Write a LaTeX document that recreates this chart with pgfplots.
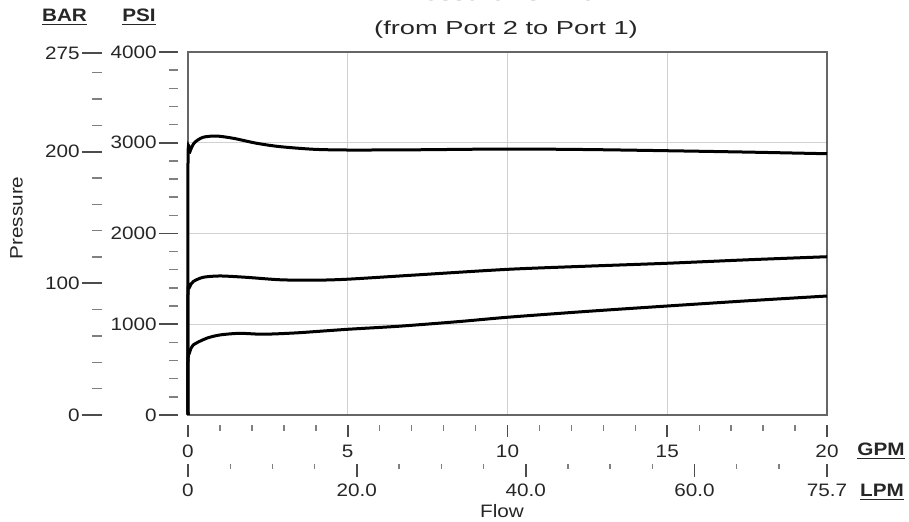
\documentclass[border=0pt]{standalone}
\usepackage{pgfplots}
\pgfplotsset{compat=1.18}
\usepackage{fontspec}
\setmainfont{Liberation Sans}[FakeStretch=1.15]
\newfontfamily\titlefont{Liberation Sans}[FakeStretch=1.45]
\begin{document}
\fontsize{9}{11}\selectfont
\begin{tikzpicture}[x=0.5pt,y=0.5pt]
\pgfplotsset{
  tickaxis/.style={scale only axis,
    /pgf/number format/assume math mode=true,
    tick style={black!70, line width=0.9pt},
    minor tick style={black!50, line width=0.7pt},
    axis line style={draw=none},
    tick align=outside,
    ticklabel style={font=\fontsize{9}{11}\selectfont, text=black!85}},
}
% main plot
\begin{axis}[at={(94pt,53.5pt)}, anchor=south west, scale only axis,
  width=319.5pt, height=181.5pt,
  xmin=0, xmax=20, ymin=0, ymax=4000,
  xtick={5,10,15}, ytick={1000,2000,3000},
  xticklabels={}, yticklabels={},
  major tick length=0pt,
  grid=major, grid style={black!18, line width=0.5pt},
  axis line style={black!60, line width=0.7pt},
  clip=false]
\addplot[black, line width=1.5pt, smooth, tension=0.45] coordinates {
(0,0) (0,2780) (0.06,2900) (0.2,3000) (0.47,3060) (0.89,3074) (1.42,3049)
(2.15,2994) (2.88,2957) (3.93,2928) (4.98,2920) (7,2922) (10,2931)
(12.5,2925) (15,2912) (17.5,2897) (20,2879)};
\addplot[black, line width=1.5pt, smooth, tension=0.45] coordinates {
(0,0) (0,1330) (0.05,1410) (0.16,1469) (0.47,1517) (1.0,1532) (1.83,1517)
(2.88,1490) (3.93,1485) (4.98,1496) (7,1540) (10,1605) (12.5,1640)
(15,1672) (17.5,1710) (20,1744)};
\addplot[black, line width=1.5pt, smooth, tension=0.45] coordinates {
(0,0) (0,590) (0.05,690) (0.16,771) (0.58,845) (1.0,882) (1.62,900)
(2.35,890) (3.4,905) (4.98,944) (6.6,978) (8.5,1030) (10,1077)
(12.5,1142) (15,1201) (17.5,1258) (20,1311)};
\end{axis}
% GPM axis
\begin{axis}[tickaxis, at={(94pt,48.5pt)}, anchor=south west,
  width=319.5pt, height=0.5pt,
  xmin=0, xmax=20, ymin=0, ymax=1, hide y axis,
  xtick={0,5,10,15,20}, xticklabels={0,5,10,15,20},
  minor x tick num=4, xtick pos=left,
  xticklabel style={yshift=-1pt},
  major tick length=6pt, minor tick length=3pt]
\end{axis}
% LPM axis
\begin{axis}[tickaxis, at={(94pt,29pt)}, anchor=south west,
  width=319.5pt, height=0.5pt,
  xmin=0, xmax=75.7, ymin=0, ymax=1, hide y axis,
  xtick={0,20,40,60,75.7}, xticklabels={0,20.0,40.0,60.0,75.7},
  minor xtick={5,10,15,25,30,35,45,50,55,65,70}, xtick pos=left,
  xticklabel style={yshift=-0.5pt},
  major tick length=6.5pt, minor tick length=2.5pt]
\end{axis}
% PSI axis
\begin{axis}[tickaxis, at={(89.5pt,53.5pt)}, anchor=south east,
  width=0.5pt, height=181.5pt,
  xmin=0, xmax=1, ymin=0, ymax=4000, hide x axis,
  ytick={0,1000,2000,3000,4000}, yticklabels={0,1000,2000,3000,4000},
  minor y tick num=4, ytick pos=left,
  yticklabel style={xshift=2pt},
  major tick length=9.5pt, minor tick length=4.5pt]
\end{axis}
% BAR axis
\begin{axis}[tickaxis, at={(51.5pt,53.5pt)}, anchor=south east,
  width=0.5pt, height=181.5pt,
  xmin=0, xmax=1, ymin=0, ymax=275.79, hide x axis,
  ytick={0,100,200,275}, yticklabels={0,100,200,275},
  minor ytick={20,40,60,80,120,140,160,180,220,240,260}, ytick pos=left,
  yticklabel style={xshift=2pt},
  major tick length=10pt, minor tick length=5pt]
\end{axis}
% texts
\node[font=\fontsize{9}{11}\selectfont\bfseries, text=black!85] at (64.5,505) {\underline{BAR}};
\node[font=\fontsize{9}{11}\selectfont\bfseries, text=black!85] at (139,505) {\underline{PSI}};
\node[font=\fontsize{9}{11}\selectfont\bfseries, text=black!85] at (881,71) {\underline{GPM}};
\node[font=\fontsize{9}{11}\selectfont\bfseries, text=black!85] at (882,30) {\underline{LPM}};
\node[font=\fontsize{9}{11}\selectfont, text=black!85] at (502,11) {Flow};
\node[font=\fontsize{9}{11}\selectfont, text=black!85, rotate=90] at (16.5,304) {Pressure};
\node[font=\titlefont\fontsize{9.4}{11}\selectfont, text=black!85, anchor=base] at (506,487) {(from Port 2 to Port 1)};
\node[font=\titlefont\fontsize{9.4}{11}\selectfont, text=black!85, anchor=base] at (506,521) {Pressure vs. Flow};
\pgfresetboundingbox
\path[use as bounding box] (0,0) rectangle (909,522);
\end{tikzpicture}
\end{document}
